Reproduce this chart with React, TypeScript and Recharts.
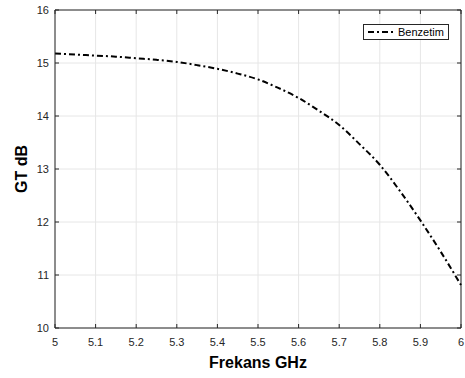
import { LineChart, Line, XAxis, YAxis, CartesianGrid, ReferenceLine } from 'recharts';

// frekans (GHz) ve GT (dB) değerleri
const freqs = [5.0, 5.05, 5.1, 5.15, 5.2, 5.25, 5.3, 5.35, 5.4, 5.45, 5.5, 5.55, 5.6, 5.65, 5.7, 5.75, 5.8, 5.85, 5.9, 5.95, 6.0];
const gtValues = [15.18, 15.16, 15.14, 15.12, 15.09, 15.06, 15.02, 14.96, 14.89, 14.8, 14.69, 14.53, 14.34, 14.1, 13.83, 13.47, 13.08, 12.58, 12.03, 11.44, 10.81];
const xTicks = [5, 5.1, 5.2, 5.3, 5.4, 5.5, 5.6, 5.7, 5.8, 5.9, 6];
const yTicks = [10, 11, 12, 13, 14, 15, 16];
const seriesName = 'Benzetim';

const data = freqs.map((f, i) => ({ f, gt: gtValues[i] }));

const W = 465;
const H = 378;
const M = { top: 10, right: 4, left: 0, bottom: 0 };
const Y_W = 55;
const X_H = 50;
const PLOT_W = W - M.left - M.right - Y_W;
const PLOT_H = H - M.top - M.bottom - X_H;
const AX = '#262626';
const FONT = 'Liberation Sans, Arial, sans-serif';
const DASH = '6 3 2 3';
const TICK = 4;

const XTick = (props: any) => {
  const { x, y, payload } = props;
  return (
    <g>
      <line x1={x} y1={y} x2={x} y2={y - TICK} stroke={AX} />
      <line x1={x} y1={y - PLOT_H} x2={x} y2={y - PLOT_H + TICK} stroke={AX} />
      <text x={x} y={y + 18} textAnchor="middle" fontSize={11} fill={AX} fontFamily={FONT}>
        {String(Number(payload.value.toFixed(1)))}
      </text>
    </g>
  );
};

const YTick = (props: any) => {
  const { x, y, payload } = props;
  return (
    <g>
      <line x1={x} y1={y} x2={x + TICK} y2={y} stroke={AX} />
      <line x1={x + PLOT_W} y1={y} x2={x + PLOT_W - TICK} y2={y} stroke={AX} />
      <text x={x - 6} y={y + 4} textAnchor="end" fontSize={11} fill={AX} fontFamily={FONT}>
        {payload.value}
      </text>
    </g>
  );
};

// lejant kutusu (grafiğin üstüne yerleştiriliyor)
const LegendBox = () => (
  <div
    style={{
      position: 'absolute',
      top: 24,
      left: 363,
      width: 84,
      height: 14,
      border: `1px solid ${AX}`,
      background: '#fff',
      display: 'flex',
      alignItems: 'center',
    }}
  >
    <svg width={34} height={14}>
      <line x1={4} y1={7} x2={32} y2={7} stroke="#000" strokeWidth={2} strokeDasharray={DASH} />
    </svg>
    <span style={{ fontSize: 11, fontFamily: FONT, color: '#000', lineHeight: '14px' }}>{seriesName}</span>
  </div>
);

export default function App() {
  return (
    <div style={{ position: 'absolute', left: 0, top: 0, width: W, height: H, background: '#fff' }}>
      <LineChart width={W} height={H} data={data} margin={M}>
        <CartesianGrid stroke="#e6e6e6" strokeWidth={1} />
        <XAxis
          dataKey="f"
          type="number"
          domain={[5, 6]}
          ticks={xTicks}
          height={X_H}
          stroke={AX}
          tickLine={false}
          tickSize={0}
          tickMargin={0}
          tick={<XTick />}
          interval={0}
          label={{
            content: (p: any) => (
              <text x={p.viewBox.x + p.viewBox.width / 2} y={p.viewBox.y + 40} textAnchor="middle" fontSize={16} fontWeight="bold" fill="#000" fontFamily={FONT}>
                Frekans GHz
              </text>
            ),
          }}
        />
        <YAxis
          type="number"
          domain={[10, 16]}
          ticks={yTicks}
          width={Y_W}
          stroke={AX}
          tickLine={false}
          tickSize={0}
          tickMargin={0}
          tick={<YTick />}
          interval={0}
          label={{
            content: (p: any) => {
              const cx = p.viewBox.x + 21;
              const cy = p.viewBox.y + p.viewBox.height / 2;
              return (
                <text x={cx} y={cy} transform={`rotate(-90 ${cx} ${cy})`} textAnchor="middle" dominantBaseline="central" fontSize={16} fontWeight="bold" fill="#000" fontFamily={FONT}>
                  GT dB
                </text>
              );
            },
          }}
        />
        <ReferenceLine y={16} stroke={AX} ifOverflow="visible" />
        <ReferenceLine x={6} stroke={AX} ifOverflow="visible" />
        <Line
          dataKey="gt"
          name={seriesName}
          type="monotone"
          stroke="#000"
          strokeWidth={2}
          strokeDasharray={DASH}
          dot={false}
          isAnimationActive={false}
        />
      </LineChart>
      <LegendBox />
    </div>
  );
}
